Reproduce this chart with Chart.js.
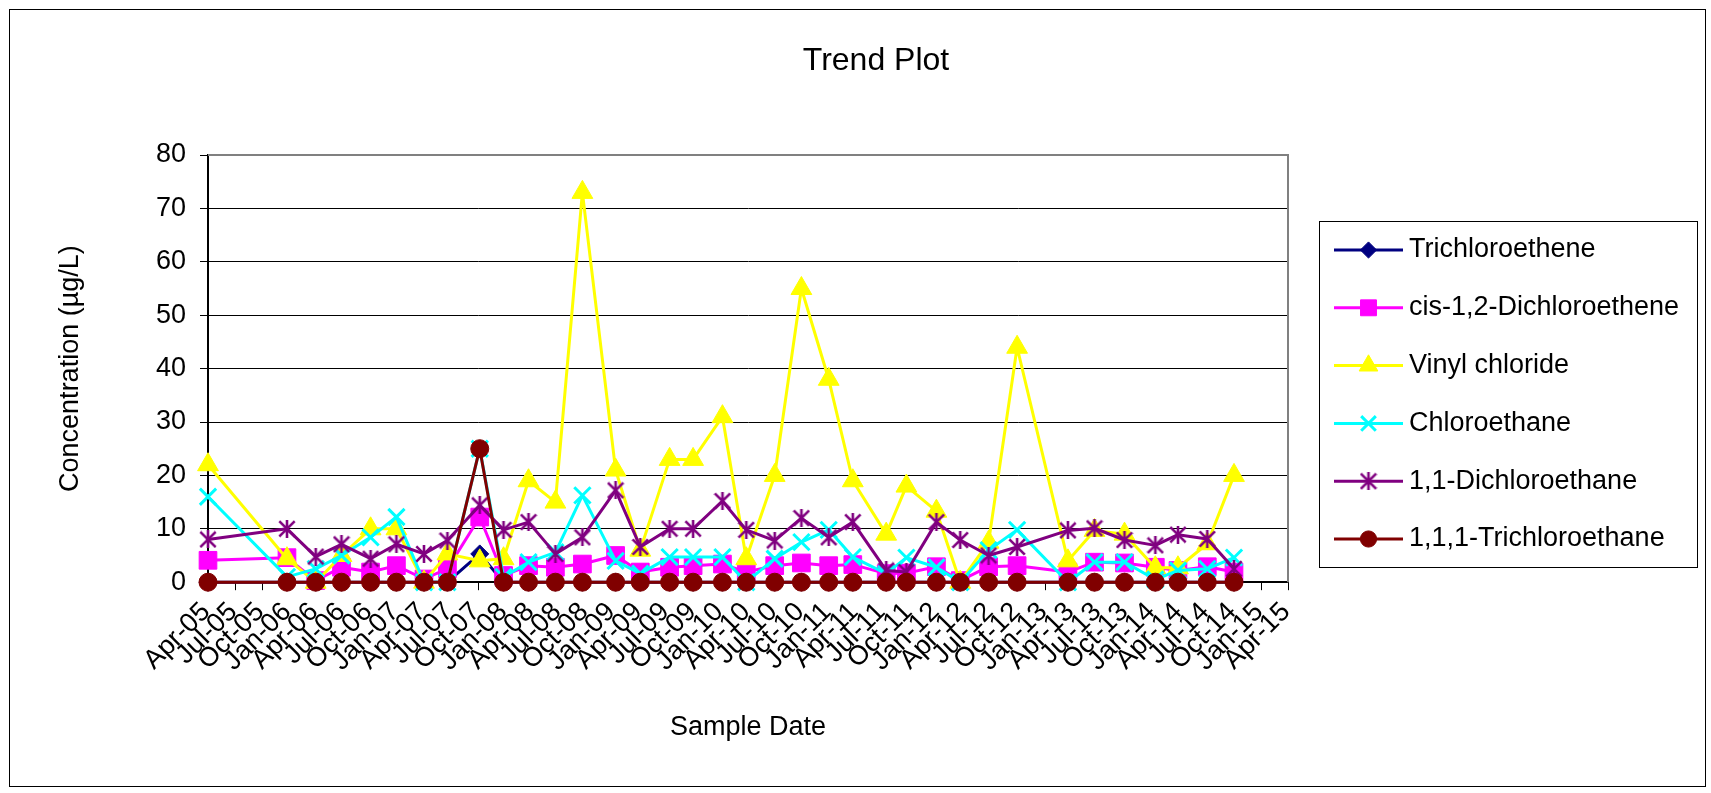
<!DOCTYPE html>
<html>
<head>
<meta charset="utf-8">
<title>Trend Plot</title>
<script src="https://cdn.jsdelivr.net/npm/chart.js@4.4.0/dist/chart.umd.min.js"></script>
<style>
  html, body { margin: 0; padding: 0; background: #fff; }
  #wrap { position: relative; width: 1711px; height: 793px; }
  canvas { display: block; }
</style>
</head>
<body>
<div id="wrap"><canvas id="trend" width="1711" height="793"></canvas></div>
<script>
// ---- data -------------------------------------------------------------
const chartTitle = 'Trend Plot';
const xAxisTitle = 'Sample Date';
const yAxisTitle = 'Concentration (µg/L)';

const sampleDates = [
  '2005-04-01', '2005-12-25', '2006-03-31', '2006-06-26', '2006-10-03', '2006-12-30',
  '2007-04-01', '2007-06-19', '2007-10-07', '2007-12-27', '2008-03-20', '2008-06-19',
  '2008-09-19', '2009-01-10', '2009-04-02', '2009-07-10', '2009-09-28', '2010-01-06',
  '2010-03-26', '2010-06-30', '2010-09-29', '2010-12-31', '2011-03-21', '2011-07-12',
  '2011-09-19', '2011-12-30', '2012-03-19', '2012-06-23', '2012-09-28', '2013-03-18',
  '2013-06-16', '2013-09-26', '2014-01-09', '2014-03-25', '2014-07-02', '2014-10-01'
];

const tickLabels = [
  'Apr-05', 'Jul-05', 'Oct-05', 'Jan-06', 'Apr-06', 'Jul-06', 'Oct-06', 'Jan-07',
  'Apr-07', 'Jul-07', 'Oct-07', 'Jan-08', 'Apr-08', 'Jul-08', 'Oct-08', 'Jan-09',
  'Apr-09', 'Jul-09', 'Oct-09', 'Jan-10', 'Apr-10', 'Jul-10', 'Oct-10', 'Jan-11',
  'Apr-11', 'Jul-11', 'Oct-11', 'Jan-12', 'Apr-12', 'Jul-12', 'Oct-12', 'Jan-13',
  'Apr-13', 'Jul-13', 'Oct-13', 'Jan-14', 'Apr-14', 'Jul-14', 'Oct-14', 'Jan-15',
  'Apr-15'
];

const yTicks = [0, 10, 20, 30, 40, 50, 60, 70, 80];

const trichloroethene = [
  0, 0, 0, 0, 0, 0, 0, 0, 5.3, 0, 0, 0,
  0, 0, 0, 0, 0, 0, 0, 0, 0, 0, 0, 0,
  0, 0, 0, 0, 0, 0, 0, 0, 0, 0, 0, 0
];
const cisDichloroethene = [
  4.1, 4.6, 0.3, 2.8, 1.9, 3.1, 0.6, 2.5, 12.2, 1.25, 3.1, 2.8,
  3.4, 5.0, 1.9, 2.8, 3.1, 3.4, 1.9, 3.1, 3.6, 3.1, 3.3, 1.6,
  1.7, 2.9, 0.3, 2.9, 3.1, 1.9, 3.75, 3.6, 2.8, 2.2, 2.9, 1.9
];
const vinylChloride = [
  22, 4.4, 0, 5, 10, 10, 0, 5.3, 4, 4.4, 19, 15,
  73, 21, 6, 23, 23, 31, 4.4, 20, 55, 38, 19, 9,
  18, 13.3, 0, 7.5, 44, 4, 9.7, 9, 2.7, 2.7, 7.2, 20
];
const chloroethane = [
  16, 1, 2.5, 5, 8.4, 12.2, 0, 0, 25, 1, 3.75, 5.6,
  16.25, 4, 1.6, 4.7, 4.7, 4.7, 0, 4.4, 7.5, 9.8, 4.7, 1.6,
  4.6, 2.8, 0, 6, 9.8, 0, 3.75, 3.75, 0.5, 2.2, 2.5, 4.6
];
const dichloroethane = [
  8, 10, 4.8, 7.1, 4.4, 7.1, 5.3, 7.8, 14.4, 9.8, 11.25, 5.3,
  8.4, 17.2, 6.6, 10, 10, 15.2, 9.8, 7.8, 12, 8.4, 11.25, 2.2,
  1.9, 11.25, 7.9, 5, 6.6, 9.7, 10.1, 7.9, 6.9, 8.9, 8.1, 2.5
];
const trichloroethane = [
  0, 0, 0, 0, 0, 0, 0, 0, 25, 0, 0, 0,
  0, 0, 0, 0, 0, 0, 0, 0, 0, 0, 0, 0,
  0, 0, 0, 0, 0, 0, 0, 0, 0, 0, 0, 0
];

// ---- helpers ----------------------------------------------------------
// months elapsed since April 2005 (fractional, for the linear time axis)
function monthsFromStart(dateStr) {
  const [y, m, d] = dateStr.split('-').map(Number);
  const daysInMonth = new Date(y, m, 0).getDate();
  return (y - 2005) * 12 + (m - 4) + (d - 1) / daysInMonth;
}
function toPoints(values) {
  return sampleDates.map((d, i) => ({ x: monthsFromStart(d), y: values[i] }));
}
// six-armed asterisk marker (X with a vertical bar)
function asteriskMarker(color, size, lw) {
  const c = document.createElement('canvas');
  c.width = size; c.height = size;
  const g = c.getContext('2d');
  g.strokeStyle = color;
  g.lineWidth = lw;
  const p = lw / 2, q = size - lw / 2, m = size / 2;
  g.beginPath();
  g.moveTo(p, p); g.lineTo(q, q);
  g.moveTo(q, p); g.lineTo(p, q);
  g.moveTo(m, 0); g.lineTo(m, size);
  g.stroke();
  return c;
}

const FONT = '"Liberation Sans", Arial, Helvetica, sans-serif';
Chart.defaults.font.family = FONT;
Chart.defaults.font.size = 27;
Chart.defaults.color = '#000';

function series(label, values, color, pointStyle, radius, order, pointBorderWidth) {
  return {
    label,
    data: toPoints(values),
    borderColor: color,
    backgroundColor: color,
    pointBackgroundColor: color,
    pointBorderColor: color,
    borderWidth: 3,
    pointStyle,
    pointRadius: radius,
    pointHoverRadius: radius,
    pointBorderWidth: pointBorderWidth,
    borderJoinStyle: 'round',
    borderCapStyle: 'round',
    tension: 0,
    clip: false,
    order
  };
}

const datasets = [
  series('Trichloroethene', trichloroethene, '#000080', 'rectRot', 9, 5, 1),
  series('cis-1,2-Dichloroethene', cisDichloroethene, '#FF00FF', 'rect', 12.5, 4, 1),
  series('Vinyl chloride', vinylChloride, '#FFFF00', 'triangle', 12, 3, 1),
  series('Chloroethane', chloroethane, '#00FFFF', 'crossRot', 11.5, 2, 3),
  series('1,1-Dichloroethane', dichloroethane, '#800080', asteriskMarker('#800080', 18, 2.6), 9, 1, 1),
  series('1,1,1-Trichloroethane', trichloroethane, '#800000', 'circle', 9, 0, 1)
];

// ---- frame, title and legend -------------------------------------------
const decorations = {
  id: 'decorations',
  beforeDraw(chart) {
    const ctx = chart.ctx;
    ctx.save();
    ctx.fillStyle = '#fff';
    ctx.fillRect(0, 0, chart.width, chart.height);
    ctx.strokeStyle = '#000';
    ctx.lineWidth = 1;
    ctx.strokeRect(9.5, 9.5, 1696, 777);
    ctx.restore();
  },
  beforeDatasetsDraw(chart) {
    const { ctx, chartArea: a } = chart;
    ctx.save();
    ctx.strokeStyle = '#808080';
    ctx.lineWidth = 2;
    ctx.beginPath();
    ctx.moveTo(a.left, a.top);
    ctx.lineTo(a.right, a.top);
    ctx.lineTo(a.right, a.bottom);
    ctx.stroke();
    ctx.restore();
  },
  afterDraw(chart) {
    const ctx = chart.ctx;
    ctx.save();
    // chart title
    ctx.fillStyle = '#000';
    ctx.font = '32px ' + FONT;
    ctx.textAlign = 'center';
    ctx.textBaseline = 'middle';
    ctx.fillText(chartTitle, 876, 61);

    // legend box
    ctx.strokeStyle = '#000';
    ctx.lineWidth = 1;
    ctx.strokeRect(1319.5, 221.5, 378, 346);
    const helpers = Chart.helpers || {};
    chart.data.datasets.forEach((ds, i) => {
      const y = 250 + i * 57.8;
      ctx.strokeStyle = ds.borderColor;
      ctx.lineWidth = 3;
      ctx.beginPath();
      ctx.moveTo(1334, y);
      ctx.lineTo(1403, y);
      ctx.stroke();
      ctx.fillStyle = ds.backgroundColor;
      ctx.strokeStyle = ds.borderColor;
      ctx.lineWidth = ds.pointBorderWidth;
      const opts = { pointStyle: ds.pointStyle, radius: ds.pointRadius * 0.9, rotation: 0, borderWidth: ds.pointBorderWidth };
      if (helpers.drawPoint) {
        helpers.drawPoint(ctx, opts, 1368.5, y);
      } else {
        ctx.beginPath(); ctx.arc(1368.5, y, 8, 0, Math.PI * 2); ctx.fill();
      }
      ctx.fillStyle = '#000';
      ctx.font = '27px ' + FONT;
      ctx.textAlign = 'left';
      ctx.textBaseline = 'middle';
      ctx.fillText(ds.label, 1409, y);
    });
    ctx.restore();
  }
};

new Chart(document.getElementById('trend'), {
  type: 'line',
  data: { datasets },
  plugins: [decorations],
  options: {
    responsive: false,
    animation: false,
    events: [],
    devicePixelRatio: 1,
    layout: { padding: { top: 155, left: 20, right: 423, bottom: 48.8 } },
    plugins: {
      legend: { display: false },
      title: { display: false },
      tooltip: { enabled: false }
    },
    scales: {
      x: {
        type: 'linear',
        min: 0,
        max: (tickLabels.length - 1) * 3,
        afterFit(scale) { scale.height = 162; },
        afterBuildTicks(scale) { scale.ticks = tickLabels.map((_, i) => ({ value: i * 3 })); },
        ticks: {
          autoSkip: false,
          minRotation: 45,
          maxRotation: 45,
          padding: 6,
          labelOffset: -2,
          color: '#000',
          font: { size: 27 },
          callback: (v) => tickLabels[Math.round(v / 3)]
        },
        grid: { drawOnChartArea: false, drawTicks: true, tickLength: 8, color: '#000', tickColor: '#000', lineWidth: 1 },
        border: { display: true, color: '#000', width: 2 },
        title: { display: true, text: xAxisTitle, color: '#000', font: { size: 27 }, padding: { top: 0, bottom: 0 } }
      },
      y: {
        min: yTicks[0],
        max: yTicks[yTicks.length - 1],
        afterFit(scale) { scale.width = 188; },
        afterBuildTicks(scale) { scale.ticks = yTicks.map(v => ({ value: v })); },
        ticks: { padding: 14, color: '#000', font: { size: 27 } },
        grid: { color: '#000', tickColor: '#000', lineWidth: 1, tickLength: 8, drawTicks: true },
        border: { display: true, color: '#000', width: 2 },
        title: { display: true, text: yAxisTitle, color: '#000', font: { size: 27 }, padding: { top: 34.8, bottom: 0 } }
      }
    }
  }
});
</script>
</body>
</html>
